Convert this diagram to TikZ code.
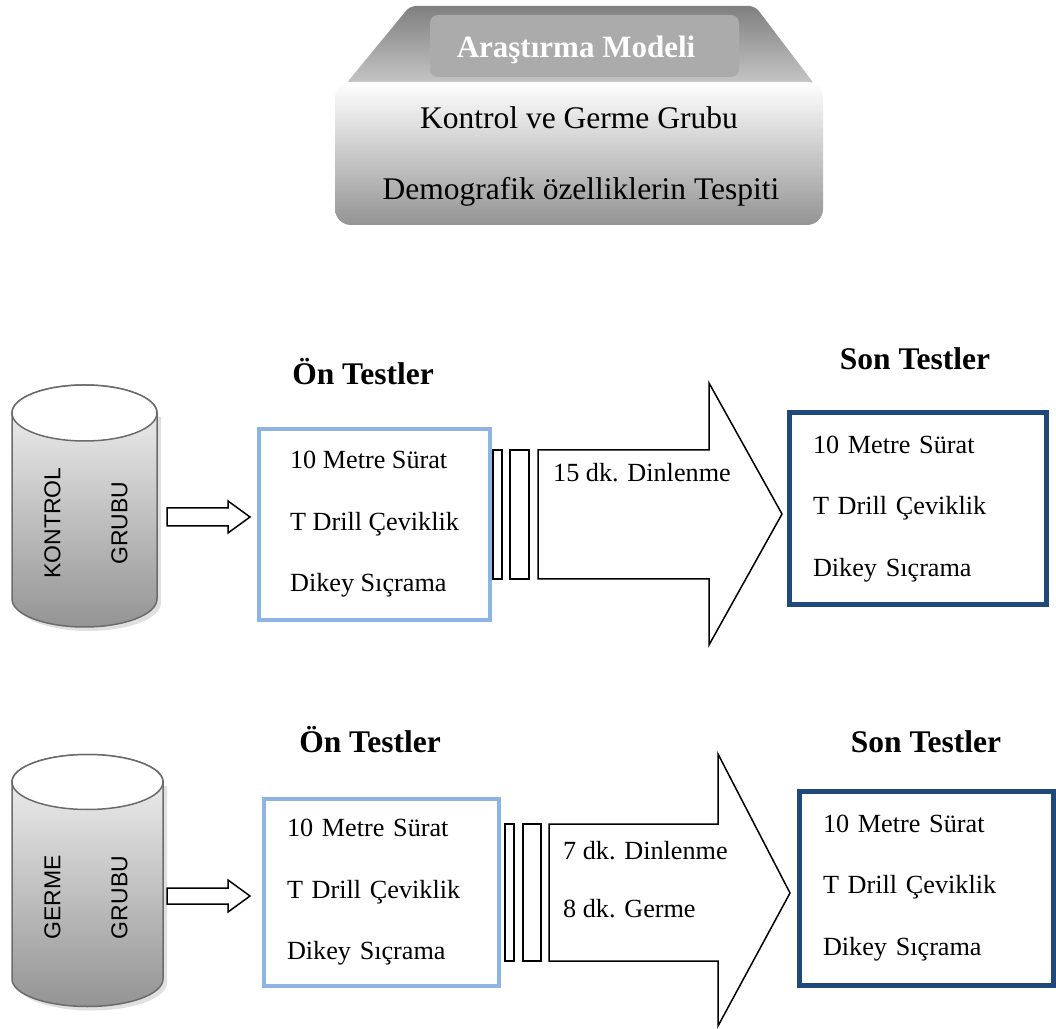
\documentclass[tikz,border=0pt]{standalone}
\usepackage{fontspec}
\setmainfont{Liberation Serif}
\setsansfont{Liberation Sans}
\definecolor{onblue}{HTML}{8EB4E3}
\definecolor{sonblue}{HTML}{1F497D}
\definecolor{cyledge}{HTML}{6B6B6B}

\begin{document}
\begin{tikzpicture}[x = 1pt, y = 1pt]
    \tikzset{TrapStyle/.style  = {top color    = black!50,
                                  bottom color = black!22}}
    \tikzset{PanelStyle/.style = {top color    = white,
                                  middle color = black!6,
                                  bottom color = black!42}}
    \tikzset{TitleStyle/.style = {text         = white,
                                  font         = \fontsize{31}{36}\selectfont\bfseries,
                                  text height  = 22pt,
                                  text depth   = 7pt,
                                  inner sep    = 0pt}}
    \tikzset{PanelText/.style  = {font         = \fontsize{31.5}{36}\selectfont,
                                  text height  = 22pt,
                                  text depth   = 7pt,
                                  inner sep    = 0pt}}
    \tikzset{HeadStyle/.style  = {anchor       = base,
                                  font         = \fontsize{31.5}{36}\selectfont\bfseries,
                                  inner sep    = 0pt}}
    \tikzset{BoxStyle/.style   = {align        = left,
                                  inner sep    = 0pt,
                                  font         = \fontsize{26.2}{61.5}\selectfont}}
    \tikzset{OnStyle/.style    = {BoxStyle,
                                  draw         = onblue,
                                  line width   = 4pt}}
    \tikzset{SonStyle/.style   = {BoxStyle,
                                  draw         = sonblue,
                                  line width   = 5pt}}
    \tikzset{RestStyle/.style  = {anchor       = base west,
                                  font         = \fontsize{26.2}{32}\selectfont,
                                  inner sep    = 0pt}}
    \tikzset{GroupStyle/.style = {rotate       = 90,
                                  align        = center,
                                  font         = \fontsize{23}{67}\selectfont\sffamily,
                                  inner sep    = 0pt}}
    \tikzset{CylBody/.style    = {top color    = black!4,
                                  bottom color = black!42}}
    \tikzset{CylEdge/.style    = {draw         = cyledge,
                                  line width   = 1.5pt}}
    \tikzset{BlockStyle/.style = {draw         = black,
                                  fill         = white,
                                  line width   = 1.5pt,
                                  line join    = miter}}
    \useasboundingbox (0,0) rectangle (1056,1028);

    % arastirma modeli
    \shade[TrapStyle, rounded corners = 6pt] (345,943) -- (410,1022) -- (755,1022) -- (815,943) -- cycle;
    \fill[black!33, rounded corners = 8pt] (430,951) rectangle (739,1013);
    \shade[PanelStyle, rounded corners = 16pt] (335,803) rectangle (823,946);
    \node[TitleStyle] (model) at (576,978) {Araştırma Modeli};
    \node[PanelText]  (grup)  at (579,907) {Kontrol ve Germe Grubu};
    \node[PanelText]  (demo)  at (581,836) {Demografik özelliklerin Tespiti};

    % kontrol grubu
    \fill[black!12] (16,611) -- (16,425) arc[start angle = 180, end angle = 360, x radius = 72.5pt, y radius = 28pt] -- (161,611) -- cycle;
    \path[CylBody, CylEdge] (12,615) -- (12,429) arc[start angle = 180, end angle = 360, x radius = 72.5pt, y radius = 28pt]
        -- (157,615) arc[start angle = 0, end angle = 180, x radius = 72.5pt, y radius = 28pt] -- cycle;
    \draw[CylEdge, fill = white] (84.5,615) ellipse [x radius = 72.5pt, y radius = 28pt];
    \node[GroupStyle] (kontrol) at (86,505) {KONTROL\\GRUBU};
    \draw[BlockStyle] (167,520) -- (228,520) -- (228,527) -- (250,511) -- (228,495) -- (228,502) -- (167,502) -- cycle;

    \node[HeadStyle] (onhead1) at (363,643) {Ön Testler};
    \node[OnStyle, minimum width = 231pt, minimum height = 191pt] (on1) at (374.5,503.5)
        {10 Metre Sürat\\T Drill Çeviklik\\Dikey Sıçrama};

    \draw[BlockStyle] (493,449) rectangle (502,578);
    \draw[BlockStyle] (510,449) rectangle (529,578);
    \draw[BlockStyle] (538,449) -- (538,578) -- (709,578) -- (709,645) -- (782,514) -- (709,383) -- (709,449) -- cycle;
    \node[RestStyle] (rest1) at (553,546) {15 dk. Dinlenme};

    \node[HeadStyle] (sonhead1) at (915,658) {Son Testler};
    \node[SonStyle, minimum width = 257pt, minimum height = 192pt, text width = 209pt] (son1) at (917.5,519)
        {10 Metre Sürat\\T Drill Çeviklik\\Dikey Sıçrama};

    % germe grubu
    \fill[black!12] (16,242) -- (16,45) arc[start angle = 180, end angle = 360, x radius = 75.5pt, y radius = 27.5pt] -- (167,242) -- cycle;
    \path[CylBody, CylEdge] (12,246) -- (12,49) arc[start angle = 180, end angle = 360, x radius = 75.5pt, y radius = 27.5pt]
        -- (163,246) arc[start angle = 0, end angle = 180, x radius = 75.5pt, y radius = 27.5pt] -- cycle;
    \draw[CylEdge, fill = white] (87.5,246) ellipse [x radius = 75.5pt, y radius = 27.5pt];
    \node[GroupStyle] (germe) at (86,130.5) {GERME\\GRUBU};
    \draw[BlockStyle] (167,140) -- (228,140) -- (228,148) -- (250,132) -- (228,116) -- (228,124) -- (167,124) -- cycle;

    \node[HeadStyle] (onhead2) at (370,276) {Ön Testler};
    \node[OnStyle, minimum width = 235pt, minimum height = 187pt, text width = 189pt] (on2) at (381.5,135.5)
        {10 Metre Sürat\\T Drill Çeviklik\\Dikey Sıçrama};

    \draw[BlockStyle] (505,67) rectangle (514,204);
    \draw[BlockStyle] (523,67) rectangle (541,204);
    \draw[BlockStyle] (549,67) -- (549,204) -- (718,204) -- (718,274) -- (790,135) -- (718,2) -- (718,67) -- cycle;
    \node[RestStyle] (rest2) at (563,169) {7 dk. Dinlenme};
    \node[RestStyle] (germe2) at (563,111) {8 dk. Germe};

    \node[HeadStyle] (sonhead2) at (926,276) {Son Testler};
    \node[SonStyle, minimum width = 254pt, minimum height = 194pt, text width = 206pt] (son2) at (926,140)
        {10 Metre Sürat\\T Drill Çeviklik\\Dikey Sıçrama};
\end{tikzpicture}
\end{document}
